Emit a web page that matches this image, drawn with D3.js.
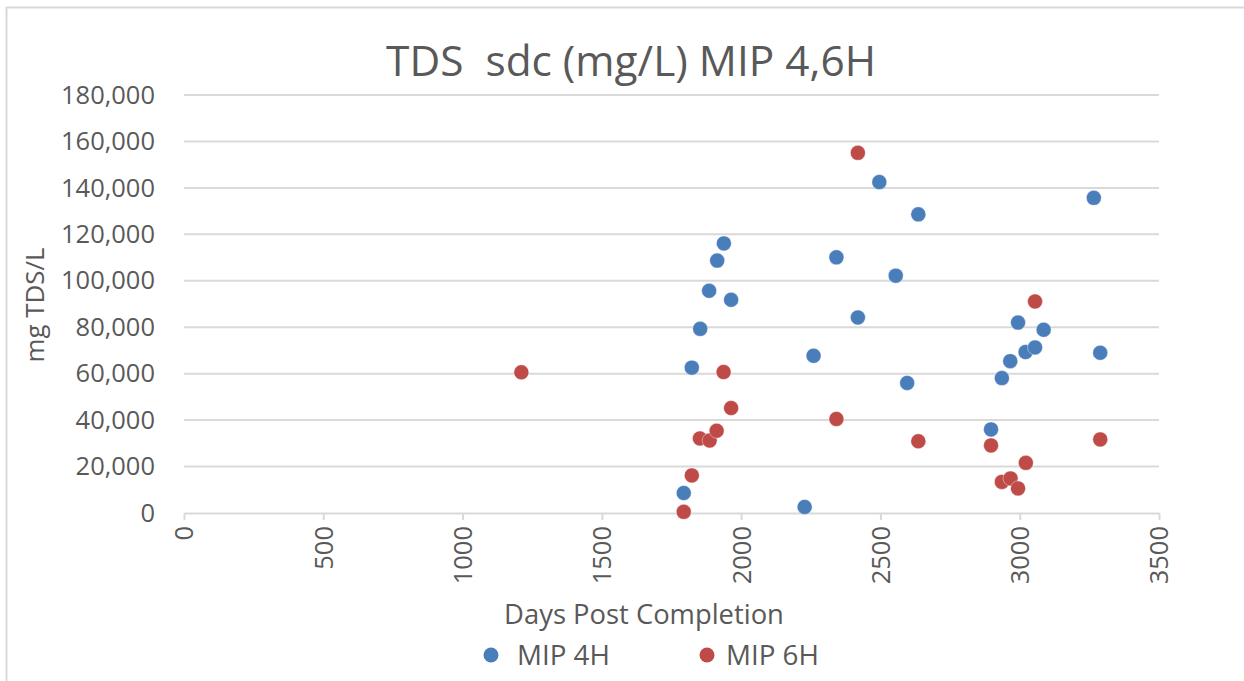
<!DOCTYPE html>
<html><head><meta charset="utf-8">
<script src="https://cdn.jsdelivr.net/npm/d3@7"></script>
<style>body{margin:0;background:#fff;overflow:hidden}</style>
</head><body><svg id="c" width="1244" height="681"></svg>
<script>
const chartTitle = "TDS  sdc (mg/L) MIP 4,6H";
const xTitle = "Days Post Completion";
const yTitle = "mg TDS/L";
const xTicks = [0, 500, 1000, 1500, 2000, 2500, 3000, 3500];
const yTicks = [0, 20000, 40000, 60000, 80000, 100000, 120000, 140000, 160000, 180000];
const seriesNames = ["MIP 4H", "MIP 6H"];
const seriesColors = ["#4a7ebb", "#be4b48"];

const mip4hDays = [1794, 1823, 1853, 1885, 1914, 1938, 1964, 2228, 2260, 2342, 2419, 2496, 2555, 2596, 2636, 2897, 2936, 2966, 2994, 3021, 3055, 3086, 3266, 3289];
const mip4hTDS  = [8600, 62600, 79300, 95700, 108700, 116100, 91800, 2600, 67700, 110100, 84200, 142500, 102200, 56000, 128600, 36000, 58100, 65400, 82000, 69300, 71300, 78900, 135700, 69000];

const mip6hDays = [1211, 1794, 1823, 1852, 1887, 1912, 1937, 1964, 2342, 2419, 2636, 2897, 2936, 2967, 2994, 3022, 3055, 3289];
const mip6hTDS  = [60600, 500, 16200, 32100, 31200, 35400, 60700, 45200, 40500, 155100, 30900, 29100, 13400, 14900, 10600, 21600, 91100, 31700];

const series = [
  {name: seriesNames[0], color: seriesColors[0], pts: mip4hDays.map((d, i) => [d, mip4hTDS[i]])},
  {name: seriesNames[1], color: seriesColors[1], pts: mip6hDays.map((d, i) => [d, mip6hTDS[i]])}
];

const svg = d3.select("#c");
const font = "'Open Sans', 'Noto Sans', sans-serif";
const txt = "#595959";
const grid = "#d9d9d9";

function fit(sel, w) {
  const l = sel.node().getComputedTextLength();
  const fs = parseFloat(sel.attr("font-size"));
  sel.attr("font-size", fs * w / l);
  return fs * w / l;
}

// chart frame (top & left visible)
svg.append("line").attr("x1", 6).attr("x2", 1244).attr("y1", 7.5).attr("y2", 7.5).attr("stroke", grid).attr("stroke-width", 2);
svg.append("line").attr("x1", 6.5).attr("x2", 6.5).attr("y1", 7).attr("y2", 681).attr("stroke", grid).attr("stroke-width", 2);

const x = d3.scaleLinear().domain([0, 3500]).range([184, 1159]);
const y = d3.scaleLinear().domain([0, 180000]).range([513, 95]);

// gridlines
svg.append("g").selectAll("line").data(yTicks.filter(v => v > 0)).join("line")
  .attr("x1", x(0)).attr("x2", x(3500))
  .attr("y1", d => y(d)).attr("y2", d => y(d))
  .attr("stroke", grid).attr("stroke-width", 2);

// x axis
const xAxis = svg.append("g").attr("transform", `translate(0,${y(0)})`)
  .call(d3.axisBottom(x).tickValues(xTicks).tickSize(7).tickSizeOuter(0).tickFormat(d3.format("d")));
xAxis.select(".domain").attr("stroke", grid).attr("stroke-width", 2);
xAxis.selectAll(".tick line").attr("stroke", grid).attr("stroke-width", 2);

// measure tick font size
const probe = svg.append("text").attr("font-family", font).attr("font-size", 20).text("180,000");
const tickFs = fit(probe, 94);
probe.remove();

xAxis.selectAll(".tick text")
  .attr("font-family", font).attr("font-size", tickFs).attr("fill", txt)
  .attr("text-anchor", "end").attr("dy", "0.35em")
  .attr("transform", "translate(0,13) rotate(-90)")
  .attr("x", 0).attr("y", 0);

// y axis
const yAxis = svg.append("g").attr("transform", `translate(${x(0)},0)`)
  .call(d3.axisLeft(y).tickValues(yTicks).tickSize(0).tickPadding(29).tickFormat(d3.format(",")));
yAxis.select(".domain").remove();
yAxis.selectAll(".tick text").attr("font-family", font).attr("font-size", tickFs).attr("fill", txt);

// title
const t = svg.append("text").attr("x", 631).attr("y", 76).attr("text-anchor", "middle")
  .attr("font-family", font).attr("font-size", 36).attr("fill", txt)
  .style("white-space", "pre").text(chartTitle);
fit(t, 490);

// axis titles
const xt = svg.append("text").attr("x", 644).attr("y", 624).attr("text-anchor", "middle")
  .attr("font-family", font).attr("font-size", 22).attr("fill", txt).text(xTitle);
fit(xt, 280);
const yt = svg.append("text").attr("transform", "translate(44,305) rotate(-90)").attr("text-anchor", "middle")
  .attr("font-family", font).attr("font-size", 22).attr("fill", txt).text(yTitle);
fit(yt, 115);

// points
series.forEach(s => {
  svg.append("g").selectAll("circle").data(s.pts).join("circle")
    .attr("cx", d => x(d[0])).attr("cy", d => y(d[1])).attr("r", 7.5)
    .attr("fill", s.color).attr("stroke", "#ffffff").attr("stroke-opacity", 0.5).attr("stroke-width", 0.8);
});

// legend
const legDot = [491, 707];
const legText = [517, 726];
series.forEach((s, i) => {
  svg.append("circle").attr("cx", legDot[i]).attr("cy", 655).attr("r", 7.5).attr("fill", s.color);
  const lt = svg.append("text").attr("x", legText[i]).attr("y", 655).attr("dy", "0.35em")
    .attr("font-family", font).attr("font-size", 22).attr("fill", txt).text(s.name);
  fit(lt, 93);
});
</script>
</body></html>
